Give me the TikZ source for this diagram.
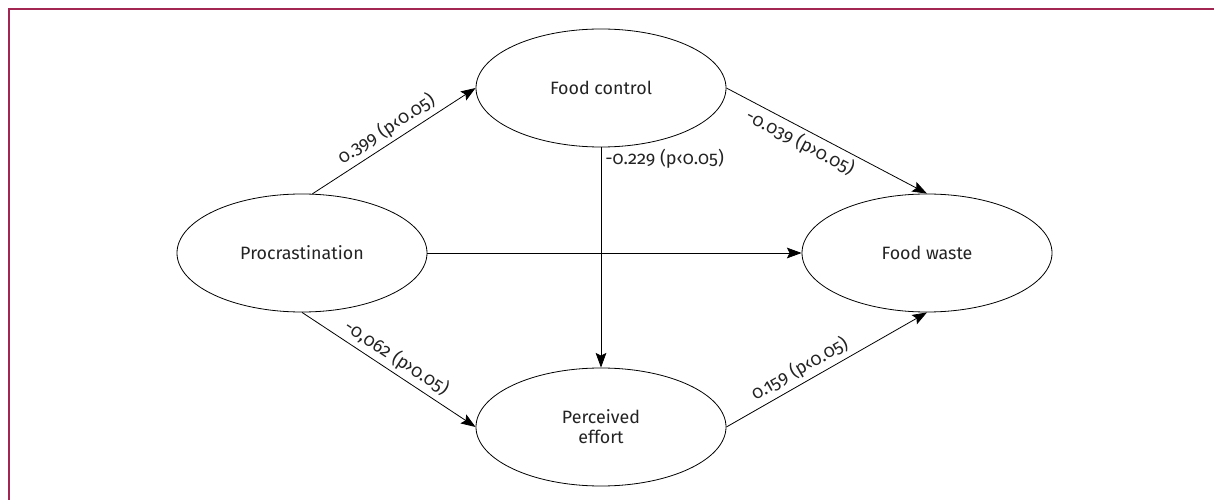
\documentclass[tikz,border=0pt]{standalone}
\usepackage{fontspec}
\setmainfont{Fira Sans}[Numbers=OldStyle]
\usepackage{xcolor}
\usepackage{tikz}
\usetikzlibrary{shapes.geometric, arrows.meta, positioning}
\definecolor{SEMFrame}{RGB}{163, 38, 82}
\definecolor{SEMText}{RGB}{35, 35, 35}
\tikzset{
  construct/.style={ellipse, draw, line width=0.6pt, minimum width=187.5pt, minimum height=88.5pt,
    inner sep=0pt, align=center, text=SEMText, font=\fontsize{13.4}{15}\selectfont},
  path/.style={-{Stealth[length=11pt, width=8pt, inset=2pt]}, line width=0.6pt},
  coef/.style={text=SEMText, font=\fontsize{13.6}{15}\selectfont, inner sep=3pt}
}

\begin{document}
\begin{tikzpicture}[x=0.75pt, y=0.75pt]
  \useasboundingbox (0,0) rectangle (1214,500);
  \draw[SEMFrame, line width=1.1pt] (9,0) -- (9,491) -- (1214,491);

  \node[construct] (proc) at (302,247) {Procrastination};
  \node[construct] (ctrl) at (601,412) {Food control};
  \node[construct] (waste) at (927,247) {Food waste};
  \node[construct] (effort) at (601,73) {Perceived\\effort};

  \draw[path] (proc.80) -- node[coef, sloped, above, midway] {0.399 (p‹0.05)} (ctrl.west);
  \draw[path] (ctrl.east) -- node[coef, sloped, below, pos=0.4] {-0.039 (p›0.05)} (waste.north);
  \draw[path] (proc.east) -- (waste.west);
  \draw[path] (ctrl.south) -- node[coef, anchor=west, pos=0.05] {-0.229 (p‹0.05)} (effort.north);
  \draw[path] (proc.south) -- node[coef, sloped, above, midway] {-0,062 (p›0.05)} (effort.west);
  \draw[path] (effort.east) -- node[coef, sloped, above, pos=0.4] {0.159 (p‹0.05)} (waste.south);
\end{tikzpicture}
\end{document}
